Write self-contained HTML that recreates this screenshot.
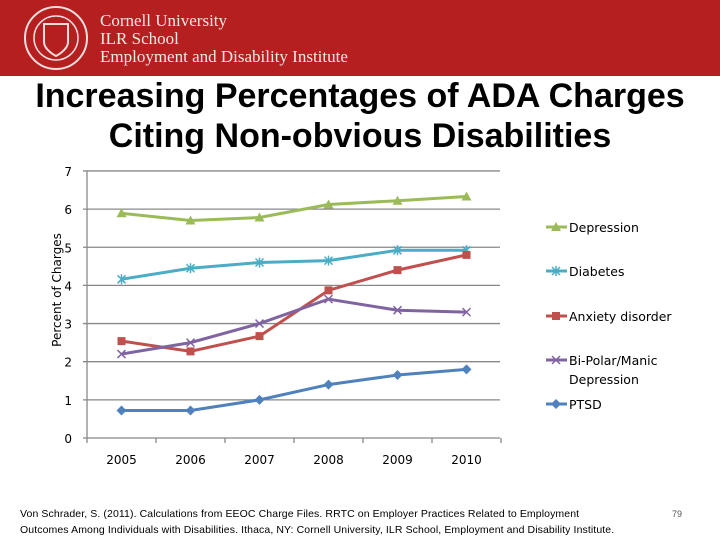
<!DOCTYPE html>
<html><head><meta charset="utf-8"><style>
body{margin:0;width:720px;height:540px;background:#fff;position:relative;overflow:hidden;font-family:"Liberation Sans",sans-serif}
#hdr{position:absolute;left:0;top:0;width:720px;height:76px;background:#b51f1f}
#title{position:absolute;left:0;top:76px;width:720px;text-align:center;font-weight:bold;font-size:34px;line-height:40px;color:#000}
#cite{position:absolute;left:20px;top:506px;font-size:10.5px;line-height:16px;color:#000;letter-spacing:0.1px}
#pg{position:absolute;left:672px;top:509px;font-size:9px;color:#555}
</style></head><body>
<div id="hdr">
<svg width="360" height="76">
<circle cx="56" cy="38" r="31" fill="none" stroke="#f3dede" stroke-width="2"/>
<circle cx="56" cy="38" r="22" fill="none" stroke="#f3dede" stroke-width="1.5"/>
<path d="M44 24h24v18c0 8-12 14-12 14s-12-6-12-14z" fill="none" stroke="#f3dede" stroke-width="2"/>
<text x="100" y="26" font-family="Liberation Serif,serif" font-size="17" fill="#f6e6e6">Cornell University</text>
<text x="100" y="44" font-family="Liberation Serif,serif" font-size="17" fill="#f6e6e6">ILR School</text>
<text x="100" y="62" font-family="Liberation Serif,serif" font-size="17" fill="#f6e6e6">Employment and Disability Institute</text>
</svg></div>
<div id="title">Increasing Percentages of ADA Charges<br>Citing Non-obvious Disabilities</div>
<svg id="chart" width="720" height="540" style="position:absolute;left:0;top:0"></svg>
<div id="cite">Von Schrader, S. (2011). Calculations from EEOC Charge Files. RRTC on Employer Practices Related to Employment<br>Outcomes Among Individuals with Disabilities. Ithaca, NY: Cornell University, ILR School, Employment and Disability Institute.</div>
<div id="pg">79</div>
<script>
const categories=["2005","2006","2007","2008","2009","2010"];
const yTicks=[0,1,2,3,4,5,6,7];
const depression=[5.89,5.7,5.78,6.12,6.22,6.33];
const diabetes=[4.16,4.45,4.6,4.65,4.92,4.92];
const anxiety=[2.54,2.27,2.67,3.87,4.4,4.8];
const bipolar=[2.2,2.5,3.0,3.64,3.35,3.3];
const ptsd=[0.72,0.72,1.0,1.4,1.65,1.8];
const seriesNames=["Depression","Diabetes","Anxiety disorder","Bi-Polar/Manic Depression","PTSD"];
const NS="http://www.w3.org/2000/svg";
const svg=document.getElementById('chart');
const X0=87,CW=69,Y0=438,UH=38.15,XR=500;
const x=i=>X0+CW*(i+0.5), y=v=>Y0-v*UH;
function el(t,a,p){const e=document.createElementNS(NS,t);for(const k in a)e.setAttribute(k,a[k]);(p||svg).appendChild(e);return e;}
yTicks.forEach(t=>{
 const g=el('line',{x1:X0-4,x2:XR,y1:y(t),y2:y(t),stroke:'#888','stroke-width':1.3});
 
 
 const tx=el('text',{x:X0-15,y:y(t)+5,'font-size':12,'text-anchor':'end','font-family':'DejaVu Sans,sans-serif'});
 tx.textContent=t;
 
 
});
el('line',{x1:X0,x2:X0,y1:y(7),y2:Y0,stroke:'#888','stroke-width':1.3});
for(let i=0;i<=categories.length;i++)el('line',{x1:X0+CW*i,x2:X0+CW*i,y1:Y0,y2:Y0+5,stroke:'#888','stroke-width':1.3});
categories.forEach((c,i)=>{
 const tx=el('text',{x:x(i),y:Y0+26,'font-size':12,'text-anchor':'middle','font-family':'DejaVu Sans,sans-serif'});
 tx.textContent=c;
 
 
});
const yt=el('text',{x:0,y:0,'font-size':12,'text-anchor':'middle','font-family':'DejaVu Sans,sans-serif',transform:'translate(61,290) rotate(-90)'});
yt.textContent='Percent of Charges';


const data=[depression,diabetes,anxiety,bipolar,ptsd];
const colors=['#9bbb59','#4bacc6','#c0504d','#8064a2','#4f81bd'];
const markers=['tri','star','sq','x','dia'];
const legY=[232,276,321,365,409];
function marker(m,cx,cy,c,g){
 if(m==='tri')el('path',{d:`M${cx} ${cy-5}L${cx+5} ${cy+4}L${cx-5} ${cy+4}Z`,fill:c},g);
 else if(m==='sq')el('rect',{x:cx-4,y:cy-4,width:8,height:8,fill:c},g);
 else if(m==='dia')el('path',{d:`M${cx} ${cy-5}L${cx+5} ${cy}L${cx} ${cy+5}L${cx-5} ${cy}Z`,fill:c},g);
 else if(m==='x')el('path',{d:`M${cx-4} ${cy-4}L${cx+4} ${cy+4}M${cx+4} ${cy-4}L${cx-4} ${cy+4}`,stroke:c,'stroke-width':1.5},g);
 else el('path',{d:`M${cx-4} ${cy-4}L${cx+4} ${cy+4}M${cx+4} ${cy-4}L${cx-4} ${cy+4}M${cx} ${cy-5}V${cy+5}`,stroke:c,'stroke-width':1.5},g);
}
data.forEach((d,s)=>{
 const g=el('g',{});
 
 
 el('polyline',{points:d.map((v,i)=>x(i)+','+y(v)).join(' '),fill:'none',stroke:colors[s],'stroke-width':3},g);
 d.forEach((v,i)=>marker(markers[s],x(i),y(v),colors[s],g));
 const lg=el('g',{});
 
 
 el('line',{x1:546,x2:567,y1:legY[s]-5,y2:legY[s]-5,stroke:colors[s],'stroke-width':3},lg);
 marker(markers[s],556,legY[s]-5,colors[s],lg);
 const parts=s===3?['Bi-Polar/Manic','Depression']:[seriesNames[s]];
 parts.forEach((p,k)=>{const t=el('text',{x:569,y:legY[s]+k*19,'font-size':12.5,'font-family':'DejaVu Sans,sans-serif'},lg);t.textContent=p;});
});
</script>
</body></html>
